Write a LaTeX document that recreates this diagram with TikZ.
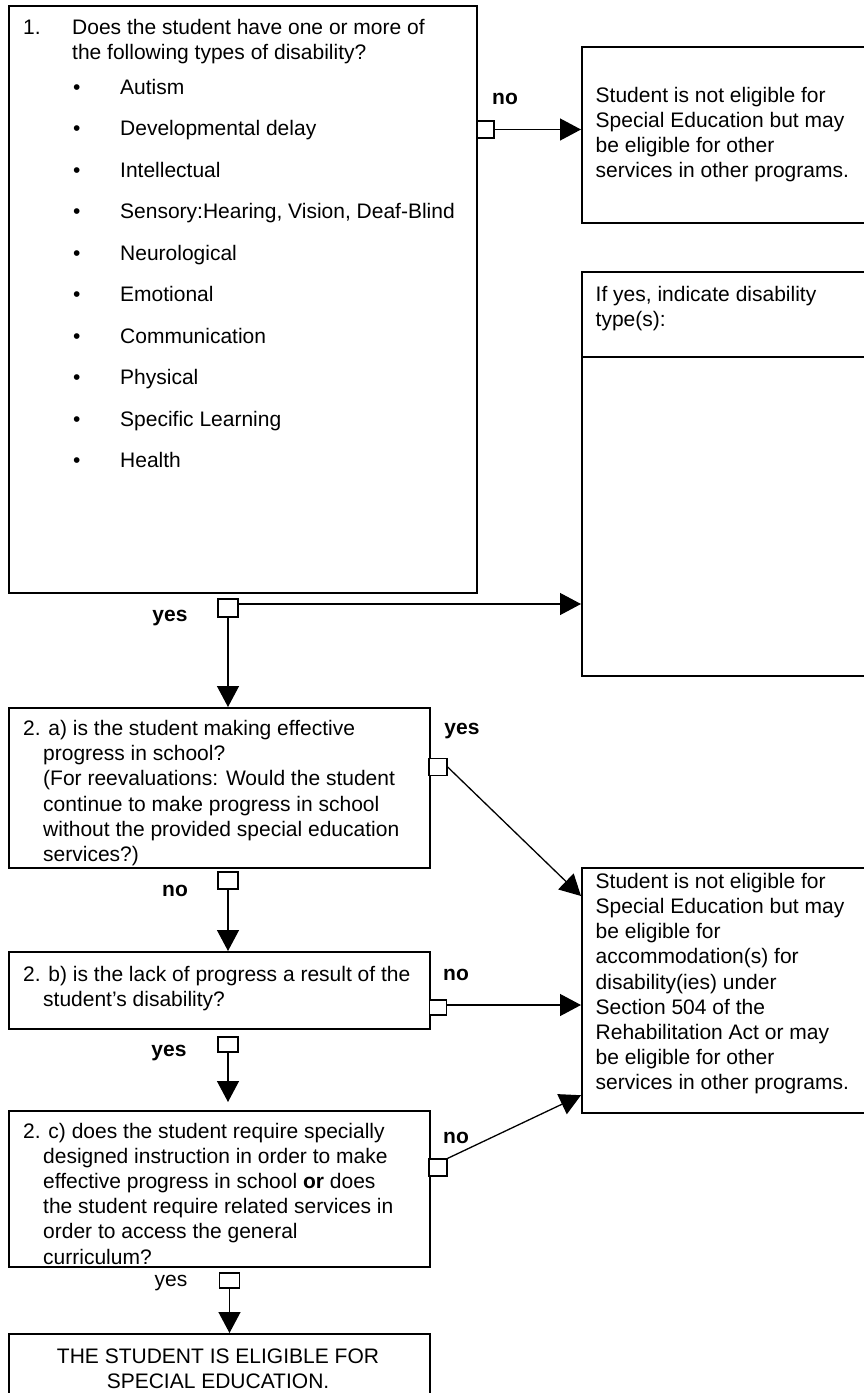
\documentclass[tikz,border=0pt]{standalone}
\usepackage{fontspec}
\setmainfont{Liberation Sans}
\usetikzlibrary{arrows.meta,calc}
\begin{document}
\begin{tikzpicture}[x=1pt,y=-1pt,
  box/.style={draw, line width=2.2pt, inner sep=0pt, anchor=north west},
  sqbox/.style={draw, line width=1.3pt, inner sep=0pt, minimum width=18pt, minimum height=17pt, fill=white},
  conn/.style={line width=1.3pt, -{Triangle[length=21pt,width=22pt]}},
  txt/.style={font=\fontsize{21pt}{25.2pt}\selectfont, inner sep=0pt, anchor=base west},
  ctxt/.style={font=\fontsize{21pt}{25.2pt}\selectfont, inner sep=0pt, anchor=base},
  lbl/.style={font=\fontsize{21pt}{25.2pt}\selectfont\bfseries, inner sep=0pt, anchor=base}]
\useasboundingbox (0,0) rectangle (863,1393);

% boxes
\node[box, minimum width=468pt, minimum height=587pt] (b1) at (8,5) {};
\node[box, minimum width=300pt, minimum height=176pt] (r1) at (581,46) {};
\node[box, minimum width=300pt, minimum height=404pt] (r2) at (581,271) {};
\draw[line width=2.2pt] ([yshift=-86pt]r2.north west) -- ([yshift=-86pt]r2.north east);
\node[box, minimum width=421pt, minimum height=160pt] (b2a) at (8,707) {};
\node[box, minimum width=300pt, minimum height=245pt] (r3) at (581,867) {};
\node[box, minimum width=421pt, minimum height=77pt] (b2b) at (8,951) {};
\node[box, minimum width=421pt, minimum height=156pt] (b2c) at (8,1110) {};
\node[box, minimum width=421pt, minimum height=100pt] (b3) at (8,1333) {};

% texts
\node[txt] (t1n) at (23,34) {1.};
\node[txt] (t1) at (72,34) {\begin{tabular}[t]{@{}l@{}}Does the student have one or more of\\ the following types of disability?\end{tabular}};
\foreach \item [count=\i from 0] in {Autism,Developmental delay,Intellectual,{Sensory:Hearing, Vision, Deaf-Blind},Neurological,Emotional,Communication,Physical,Specific Learning,Health}{
  \node[txt] (bul\i) at (73,94.3+41.5*\i) {\textbullet};
  \node[txt] (itm\i) at (120,94.3+41.5*\i) {\item};
}
\node[txt] (tr1) at (595.5,102.3) {\begin{tabular}[t]{@{}l@{}}Student is not eligible for\\ Special Education but may\\ be eligible for other\\ services in other programs.\end{tabular}};
\node[txt] (tr2) at (595.5,301) {\begin{tabular}[t]{@{}l@{}}If yes, indicate disability\\ type(s):\end{tabular}};
\node[txt] (t2a) at (43,735.5) {\begin{tabular}[t]{@{}l@{}}\hspace*{-20pt}2. a) is the student making effective\\ progress in school?\\ (For reevaluations: Would the student\\ continue to make progress in school\\ without the provided special education\\ services?)\end{tabular}};
\node[txt] (tr3) at (595.5,888.3) {\begin{tabular}[t]{@{}l@{}}Student is not eligible for\\ Special Education but may\\ be eligible for\\ accommodation(s) for\\ disability(ies) under\\ Section 504 of the\\ Rehabilitation Act or may\\ be eligible for other\\ services in other programs.\end{tabular}};
\node[txt] (t2b) at (43,981.5) {\begin{tabular}[t]{@{}l@{}}\hspace*{-20pt}2. b) is the lack of progress a result of the\\ student’s disability?\end{tabular}};
\node[txt] (t2c) at (43,1138) {\begin{tabular}[t]{@{}l@{}}\hspace*{-20pt}2. c) does the student require specially\\ designed instruction in order to make\\ effective progress in school \textbf{or} does\\ the student require related services in\\ order to access the general\\ curriculum?\end{tabular}};
\node[ctxt] (t3) at (218,1363) {\begin{tabular}[t]{@{}c@{}}THE STUDENT IS ELIGIBLE FOR\\ SPECIAL EDUCATION.\end{tabular}};

% small squares
\node[sqbox, minimum width=17pt] (sqA) at (485.5,129.5) {};
\node[sqbox, minimum width=20pt, minimum height=18pt] (sqB) at (228,608) {};
\node[sqbox] (sqC) at (438,767) {};
\node[sqbox, minimum width=20pt] (sqD) at (228,880.5) {};
\node[sqbox, minimum width=17pt, minimum height=15pt] (sqE) at (438,1007.5) {};
\node[sqbox, minimum width=20pt, minimum height=15pt] (sqF) at (228,1044.5) {};
\node[sqbox] (sqG) at (438,1167.5) {};
\node[sqbox, minimum width=20pt, minimum height=15pt] (sqH) at (229.5,1280.5) {};

% connectors
\draw[conn] (sqA.east) -- (sqA.east -| r1.west);
\draw[conn] ([yshift=4pt]sqB.east) -- ([yshift=4pt]sqB.east -| r2.west);
\draw[conn] (sqB.south) -- (sqB.south |- b2a.north);
\draw[conn] (sqC.east) -- ([yshift=-29pt]r3.north west);
\draw[conn] (sqD.south) -- (sqD.south |- b2b.north);
\draw[conn] ([yshift=2.5pt]sqE.east) -- ([yshift=2.5pt]sqE.east -| r3.west);
\draw[conn, shorten >=8pt] (sqF.south) -- (sqF.south |- b2c.north);
\draw[conn] (sqG.north east) -- ([yshift=19pt]r3.south west);
\draw[conn] (sqH.south) -- (sqH.south |- b3.north);

% labels
\node[lbl] (lA) at (505,104) {no};
\node[lbl] (lB) at (170,621) {yes};
\node[lbl] (lC) at (462,734.5) {yes};
\node[lbl] (lD) at (175,896.5) {no};
\node[lbl] (lE) at (456,980) {no};
\node[lbl] (lF) at (169,1056) {yes};
\node[lbl] (lG) at (456,1143) {no};
\node[ctxt] (lH) at (171,1286) {yes};
\end{tikzpicture}
\end{document}
